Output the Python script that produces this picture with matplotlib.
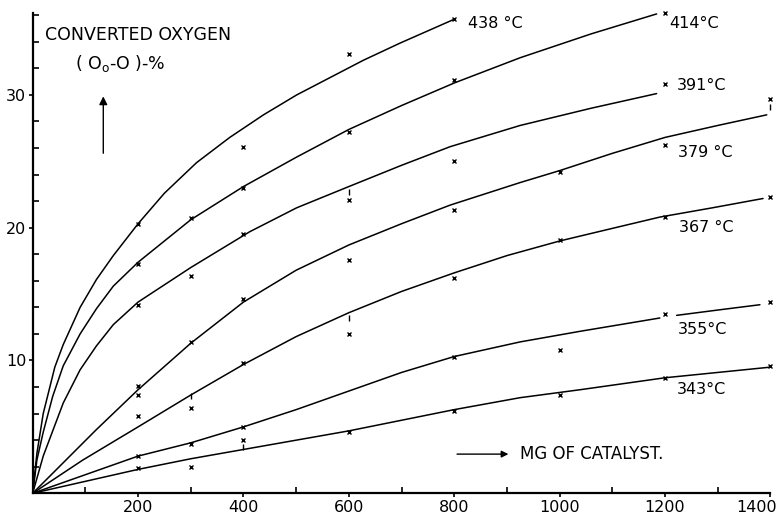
import matplotlib
matplotlib.use("Agg")
import matplotlib.pyplot as plt
import matplotlib.transforms as mtransforms
from matplotlib.ticker import FixedLocator

plt.rcParams["font.family"] = ["DejaVu Sans"]

# temperature labels for the curves
temp_labels = ["438 °C", "414°C", "391°C", "379 °C", "367 °C", "355°C", "343°C"]

# hand-drawn fitted curves: (mg catalyst, % converted)
line_438 = [(0, 0), (8, 3.0), (20, 6.0), (42, 9.5), (58, 11.2), (90, 14.0), (121, 16.1),
            (153, 17.9), (200, 20.3), (250, 22.6), (311, 24.9), (374, 26.8), (438, 28.5),
            (501, 30.0), (564, 31.3), (627, 32.6), (697, 33.9), (800, 35.7)]
line_414 = [(0, 0), (8, 2.5), (20, 4.6), (38, 7.3), (58, 9.6), (90, 12.0), (121, 13.9),
            (153, 15.6), (200, 17.4), (300, 20.6), (400, 23.1), (500, 25.3), (600, 27.4),
            (700, 29.2), (800, 30.9), (925, 32.8), (1060, 34.6), (1184, 36.1)]
line_391 = [(0, 0), (20, 2.8), (58, 6.8), (90, 9.3), (121, 11.1), (153, 12.7), (200, 14.4),
            (300, 17.0), (412, 19.7), (501, 21.5), (600, 23.1), (700, 24.7), (792, 26.1),
            (925, 27.7), (1060, 29.0), (1184, 30.1)]
line_379 = [(0, 0), (58, 2.3), (121, 4.8), (200, 7.8), (300, 11.3), (400, 14.4), (500, 16.8),
            (600, 18.7), (700, 20.3), (792, 21.7), (925, 23.4), (1000, 24.3), (1100, 25.6),
            (1200, 26.8), (1300, 27.7), (1393, 28.5)]
line_367 = [(0, 0), (95, 2.5), (200, 5.0), (300, 7.4), (400, 9.7), (500, 11.8), (600, 13.6),
            (700, 15.2), (800, 16.6), (900, 17.9), (1000, 19.0), (1100, 19.95), (1190, 20.8),
            (1290, 21.5), (1386, 22.2)]
line_355a = [(0, 0), (100, 1.4), (200, 2.8), (300, 3.8), (400, 5.0), (500, 6.3), (600, 7.7),
             (700, 9.1), (800, 10.3), (925, 11.4), (1039, 12.2), (1190, 13.2)]
line_355b = [(1222, 13.4), (1300, 13.8), (1380, 14.2)]
line_343 = [(0, 0), (100, 0.9), (200, 1.8), (300, 2.6), (400, 3.3), (500, 4.0), (600, 4.7),
            (700, 5.5), (800, 6.3), (925, 7.2), (1039, 7.8), (1200, 8.7), (1300, 9.1),
            (1400, 9.5)]

# measured points (x markers)
pts_438 = [(200, 20.3), (400, 26.1), (600, 33.1), (800, 35.7)]
pts_414 = [(200, 17.3), (300, 20.7), (400, 23.0), (600, 27.2), (800, 31.1), (1200, 36.2)]
pts_391 = [(200, 14.2), (300, 16.4), (400, 19.5), (600, 22.1), (800, 25.0), (1200, 30.8)]
pts_379 = [(200, 8.1), (200, 7.4), (300, 11.4), (400, 14.6), (600, 17.6), (800, 21.3),
           (1000, 24.2), (1200, 26.2), (1400, 29.7)]
pts_367 = [(200, 5.8), (300, 6.4), (400, 9.8), (600, 12.0), (800, 16.2), (1000, 19.1),
           (1200, 20.8), (1400, 22.3)]
pts_355 = [(200, 2.8), (300, 3.7), (400, 5.0), (800, 10.3), (1000, 10.8), (1200, 13.5),
           (1400, 14.4)]
pts_343 = [(200, 1.9), (300, 2.0), (400, 4.0), (600, 4.6), (800, 6.2), (1000, 7.4),
           (1200, 8.7), (1400, 9.6)]
# small vertical strokes (repeat readings)
pts_ticks = [(300, 7.3), (400, 3.5), (600, 22.7), (600, 13.2), (1400, 29.1)]

# label anchors (left edge, centre) for temperatures
label_pos = [(826, 35.4), (1208, 35.4), (1222, 30.7), (1225, 25.7), (1227, 20.0),
             (1225, 12.3), (1222, 7.8)]

x_ticks = [200, 400, 600, 800, 1000, 1200, 1400]
y_ticks = [10, 20, 30]

fig = plt.figure(figsize=(7.78, 5.14), dpi=100)
ax = fig.add_axes([0.042, 0.0403, 0.9483, 0.9352])

for line in [line_438, line_414, line_391, line_379, line_367, line_355a, line_355b, line_343]:
    xs, ys = zip(*line)
    ax.plot(xs, ys, color="black", lw=1.1, solid_capstyle="round", solid_joinstyle="round")

for pts in [pts_438, pts_414, pts_391, pts_379, pts_367, pts_355, pts_343]:
    xs, ys = zip(*pts)
    ax.plot(xs, ys, ls="none", marker="x", ms=3.2, mew=1.0, color="black", clip_on=False)

xs, ys = zip(*pts_ticks)
ax.plot(xs, ys, ls="none", marker="|", ms=4, mew=1.0, color="black", clip_on=False)

for t, (lx, ly) in zip(temp_labels, label_pos):
    ax.text(lx, ly, t, fontsize=11.5, va="center", ha="left")

ax.text(24, 34.5, "CONVERTED OXYGEN", fontsize=12.5, va="center", ha="left")
ax.text(80, 32.4, "( O$_\\mathrm{o}$-O )-%", fontsize=12.5, va="center", ha="left")
ax.annotate("", xy=(134, 30.1), xytext=(134, 25.4),
            arrowprops=dict(arrowstyle="-|>", color="black", lw=1.0, mutation_scale=12))
ax.annotate("", xy=(908, 2.95), xytext=(800, 2.95),
            arrowprops=dict(arrowstyle="-|>", color="black", lw=1.0, mutation_scale=10))
ax.text(925, 2.95, "MG OF CATALYST.", fontsize=12, va="center", ha="left")

ax.set_xlim(0, 1400)
ax.set_ylim(0, 36.2)
ax.spines["top"].set_visible(False)
ax.spines["right"].set_visible(False)
ax.spines["left"].set_linewidth(1.6)
ax.spines["bottom"].set_linewidth(1.6)

ax.xaxis.set_major_locator(FixedLocator(x_ticks))
ax.xaxis.set_minor_locator(FixedLocator([100, 300, 500, 700, 900, 1100, 1300]))
ax.yaxis.set_major_locator(FixedLocator(y_ticks))
ax.yaxis.set_minor_locator(FixedLocator([v for v in range(2, 37, 2) if v % 10 != 0]))
ax.set_xticklabels([str(v) for v in x_ticks])
ax.set_yticklabels([str(v) for v in y_ticks])
ax.tick_params(axis="both", which="major", direction="out", length=3, width=1.2,
               labelsize=11.5, pad=1.5)
ax.tick_params(axis="both", which="minor", direction="in", length=4, width=1.2)

# keep the last x label inside the figure
last = ax.get_xticklabels()[-1]
last.set_transform(last.get_transform() + mtransforms.ScaledTranslation(-14 / 100, 0, fig.dpi_scale_trans))

fig.savefig("out.png", dpi=100)
